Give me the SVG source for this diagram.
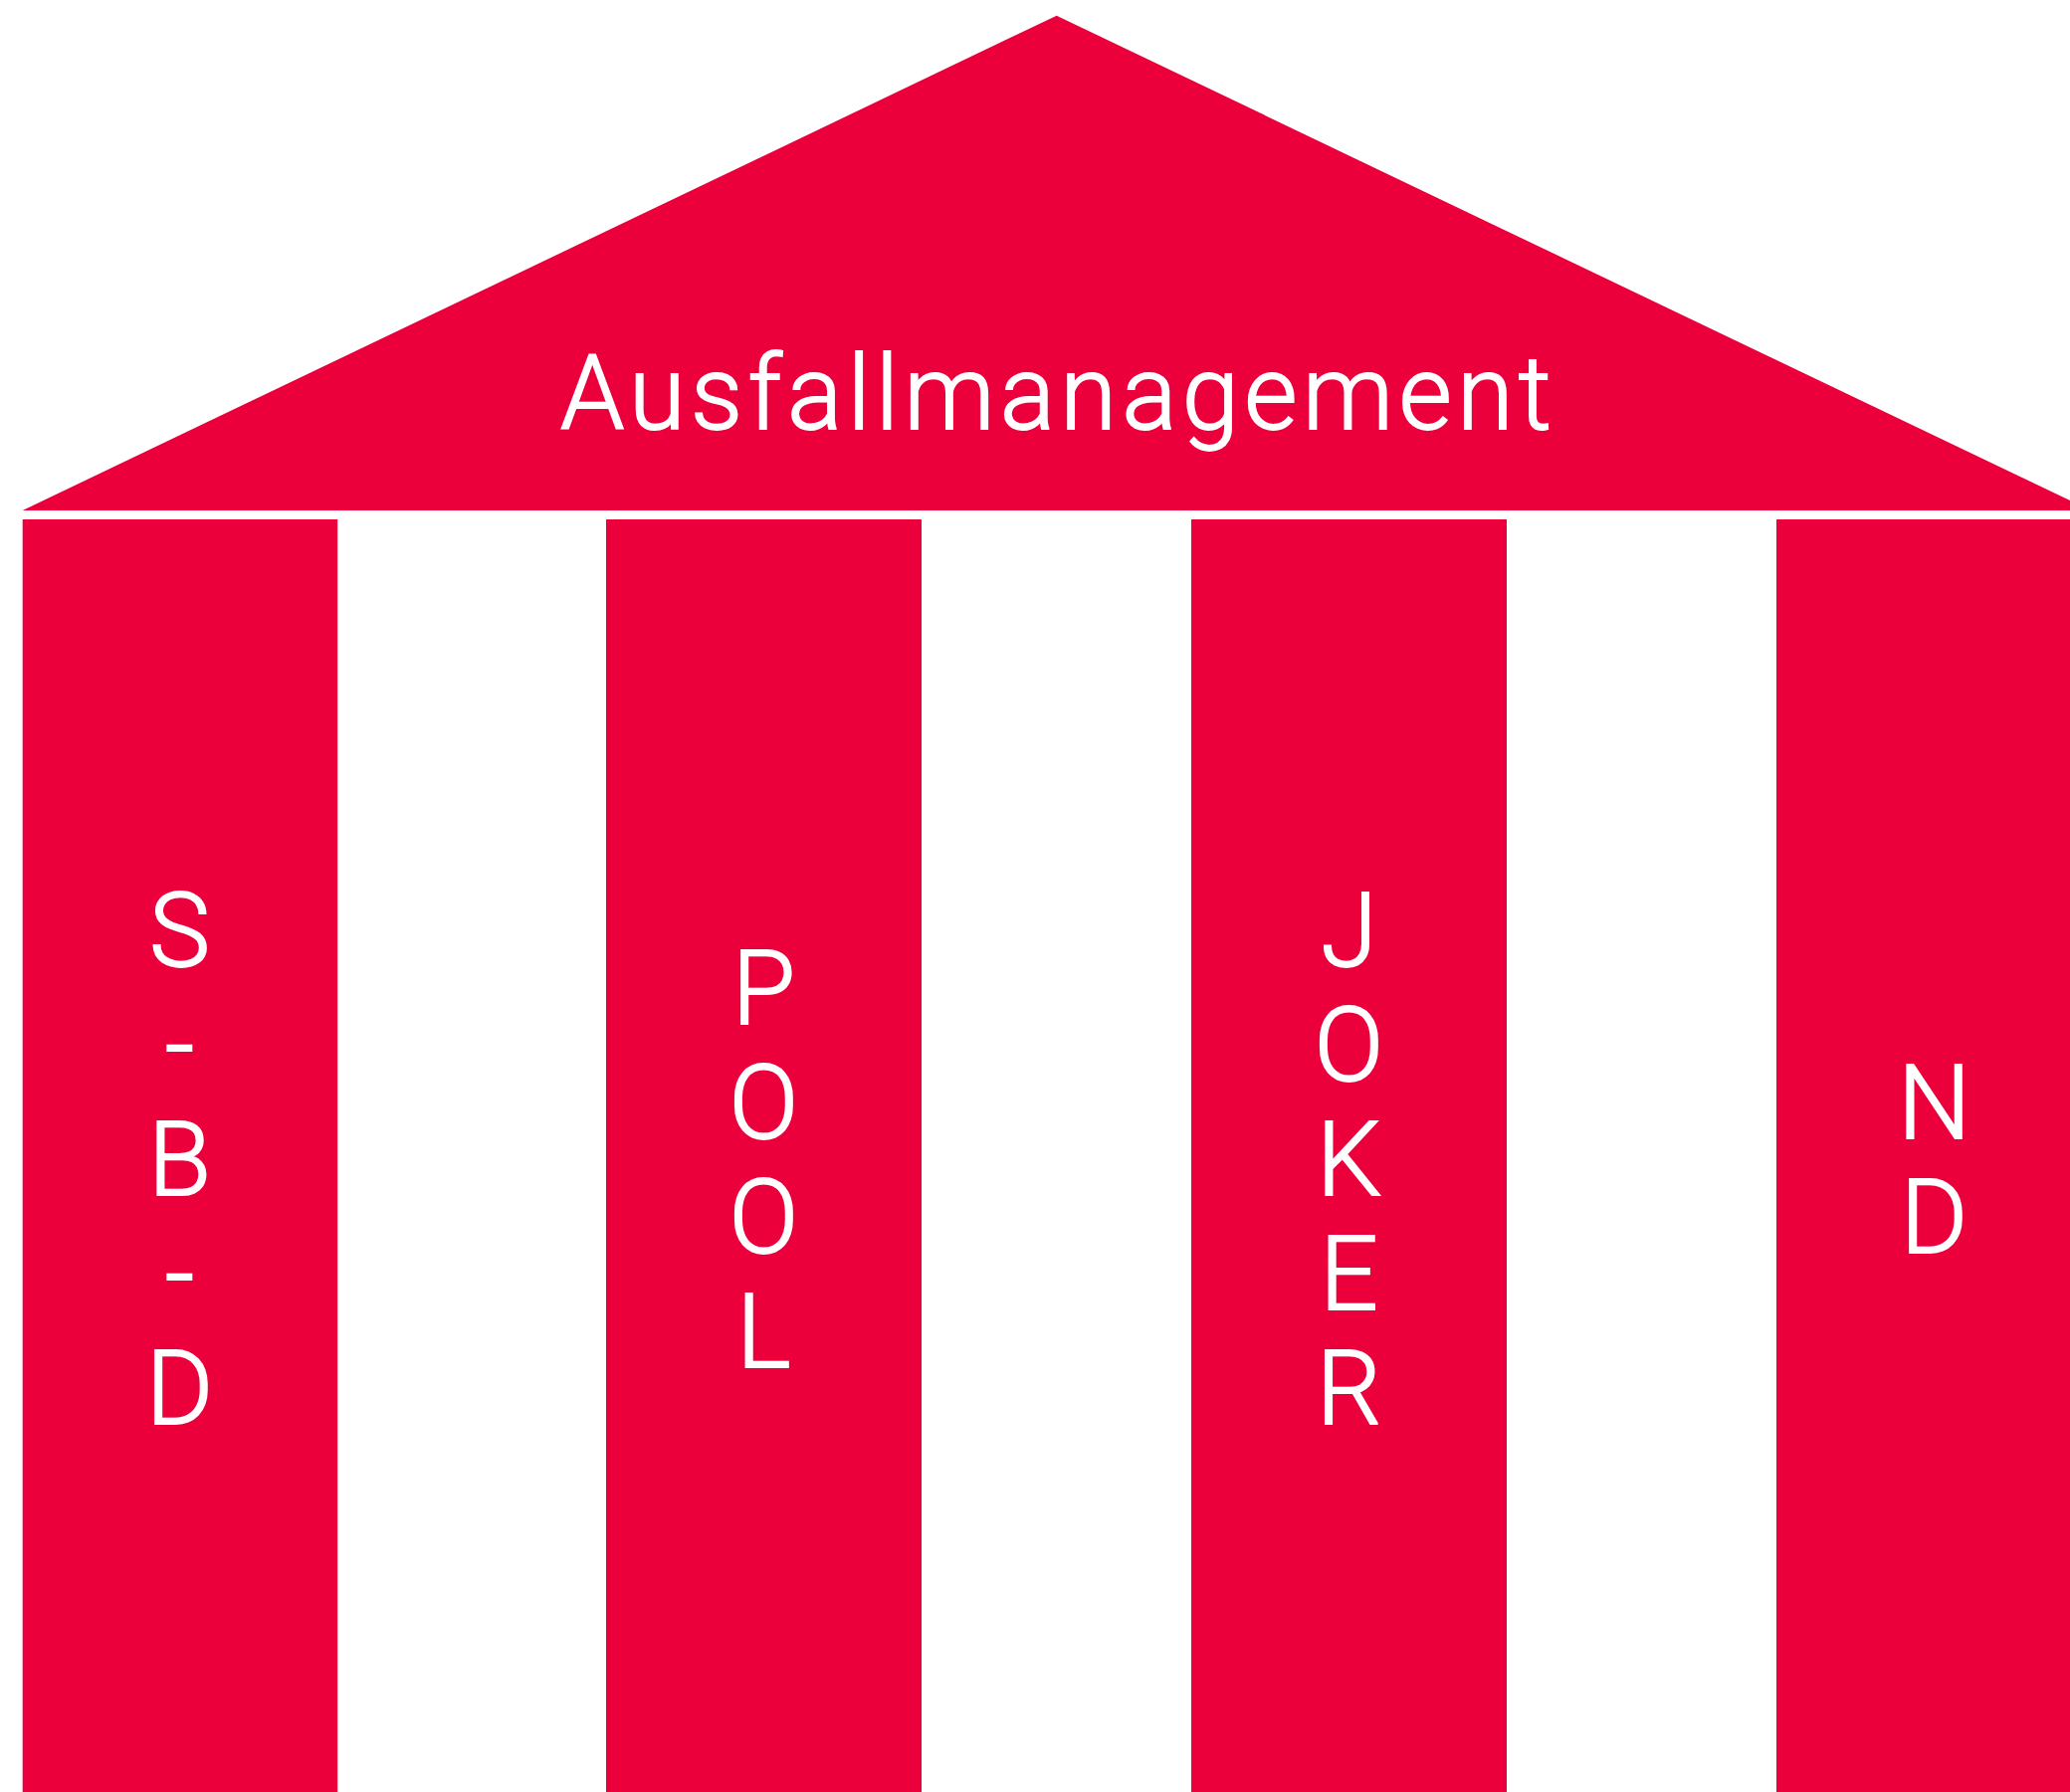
<svg xmlns="http://www.w3.org/2000/svg" width="2080" height="1801" viewBox="0 0 2080 1801">
  <style>
    .part { fill: #EB003C; }
    .label { fill: #FFFFFF; stroke: #FFFFFF; stroke-width: 1.8px; font-family: Roboto, "Liberation Sans", sans-serif; font-weight: 300; font-size: 103px; text-anchor: middle; }
  </style>
  <rect x="0" y="0" width="2080" height="1801" fill="#FFFFFF"/>

  <!-- Roof -->
  <g id="roof">
    <polygon class="part" points="1061.7,15.7 22.7,513 2100.7,513"/>
    <text class="label" x="1061" y="431" textLength="996" lengthAdjust="spacing">Ausfallmanagement</text>
  </g>

  <!-- Pillars: one letter per line, each centred on its pillar -->
  <g id="pillar-sbd">
    <rect class="part" x="22.7" y="522" width="316.5" height="1279"/>
    <text class="label" x="180.5" y="971">S</text>
    <text class="label" x="180.5" y="1086">-</text>
    <text class="label" x="180.5" y="1201">B</text>
    <text class="label" x="180.5" y="1316">-</text>
    <text class="label" x="180.5" y="1431">D</text>
  </g>

  <g id="pillar-pool">
    <rect class="part" x="609" y="522" width="317" height="1279"/>
    <text class="label" x="767.5" y="1028.5">P</text>
    <text class="label" x="767.5" y="1143.5">O</text>
    <text class="label" x="767.5" y="1258.5">O</text>
    <text class="label" x="767.5" y="1373.5">L</text>
  </g>

  <g id="pillar-joker">
    <rect class="part" x="1197" y="522" width="317" height="1279"/>
    <text class="label" x="1355.5" y="971">J</text>
    <text class="label" x="1355.5" y="1086">O</text>
    <text class="label" x="1355.5" y="1201">K</text>
    <text class="label" x="1355.5" y="1316">E</text>
    <text class="label" x="1355.5" y="1431">R</text>
  </g>

  <g id="pillar-nd">
    <rect class="part" x="1785" y="522" width="317" height="1279"/>
    <text class="label" x="1943.5" y="1143.5">N</text>
    <text class="label" x="1943.5" y="1258.5">D</text>
  </g>

  <g id="connectors"></g>
</svg>
